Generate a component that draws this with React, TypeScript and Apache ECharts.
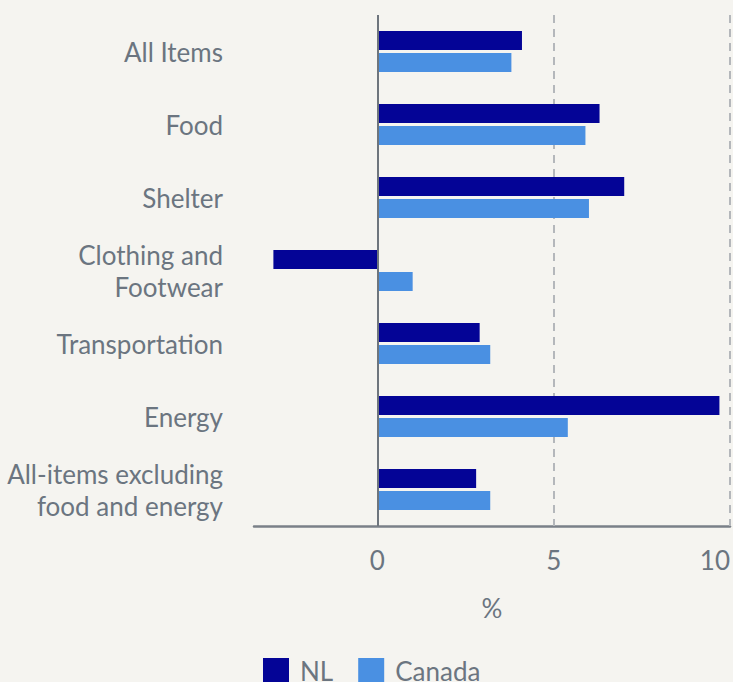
import React, { useEffect, useRef } from "react";
import * as echarts from "echarts";

const categories = [
  "All Items",
  "Food",
  "Shelter",
  "Clothing and\nFootwear",
  "Transportation",
  "Energy",
  "All-items excluding\nfood and energy",
];
const nlValues = [4.1, 6.3, 7.0, -2.95, 2.9, 9.7, 2.8];
const canadaValues = [3.8, 5.9, 6.0, 1.0, 3.2, 5.4, 3.2];
const xMin = -3.5;
const xMax = 10;
const xTickValues = [0, 5, 10];
const gridLineValues = [5, 10];

const TEXT = "#6b7580";
const FONT = "Lato";
const FS = 26;

export default function App() {
  const ref = useRef<HTMLDivElement>(null);
  useEffect(() => {
    if (!ref.current) return;
    const chart = echarts.init(ref.current, null, { renderer: "svg" });
    chart.setOption({
      animation: false,
      backgroundColor: "#f5f4f0",
      textStyle: { fontFamily: FONT },
      grid: { left: 254, right: 1, top: 15, bottom: 156, containLabel: false },
      legend: {
        left: 263,
        top: 658,
        padding: 0,
        itemWidth: 26,
        itemHeight: 26,
        itemGap: 25,
        icon: "rect",
        textStyle: { color: TEXT, fontSize: FS, fontFamily: FONT, padding: [0, 0, 0, 6] },
        data: ["NL", "Canada"],
      },
      xAxis: {
        type: "value",
        min: xMin,
        max: xMax,
        name: "%",
        nameLocation: "middle",
        nameGap: 69,
        nameTextStyle: { color: TEXT, fontSize: FS, fontFamily: FONT },
        axisLine: { show: true, lineStyle: { color: "#7a8088", width: 2.5 } },
        axisTick: { show: false },
        axisLabel: {
          color: TEXT,
          fontSize: FS,
          fontFamily: FONT,
          margin: 21,
          customValues: xTickValues,
          alignMaxLabel: "right",
        },
        splitLine: { show: false },
      },
      yAxis: {
        type: "category",
        data: categories,
        inverse: true,
        axisLine: { show: false, onZero: false },
        axisTick: { show: false },
        axisLabel: {
          color: TEXT,
          fontSize: FS,
          fontFamily: FONT,
          margin: 31,
          lineHeight: 32,
          align: "right",
        },
      },
      series: [
        {
          name: "NL",
          type: "bar",
          data: nlValues,
          barWidth: 19,
          barGap: "16%",
          itemStyle: { color: "#040496" },
          markLine: {
            silent: true,
            symbol: "none",
            label: { show: false },
            lineStyle: { color: "#b4b7bb", type: [8, 6], width: 2 },
            data: gridLineValues.map((v) => ({ xAxis: v })),
            z: 1,
          },
        },
        {
          name: "Canada",
          type: "bar",
          data: canadaValues,
          barWidth: 19,
          barGap: "16%",
          itemStyle: { color: "#4a90e2" },
          markLine: {
            silent: true,
            symbol: "none",
            label: { show: false },
            lineStyle: { color: "#6e757d", type: "solid", width: 2 },
            data: [{ xAxis: 0 }],
          },
        },
      ],
    });
    return () => chart.dispose();
  }, []);
  return <div ref={ref} style={{ width: 733, height: 682, position: "absolute", left: 0, top: 0 }} />;
}
